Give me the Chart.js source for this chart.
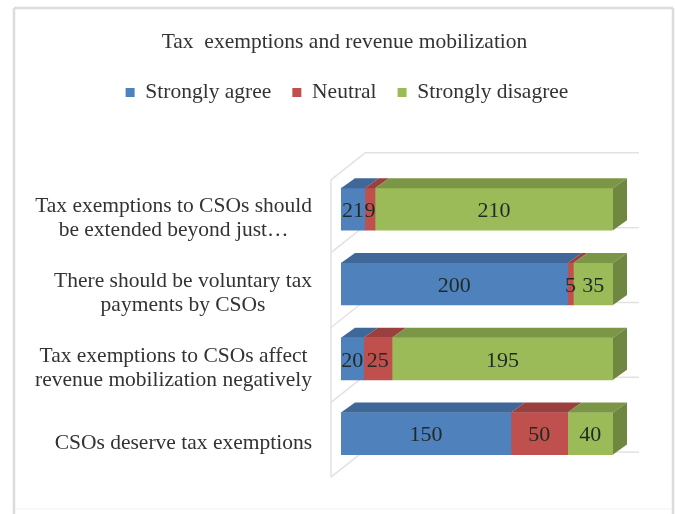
<!DOCTYPE html>
<html lang="en">
<head>
    <meta charset="UTF-8">
    <title>Tax exemptions and revenue mobilization</title>
    <script src="https://cdn.jsdelivr.net/npm/chart.js"></script>
    <style>
        html, body {
            margin: 0;
            background: #fff;
        }
        #wrap {
            position: relative;
            width: 675px;
            height: 514px;
        }
    </style>
</head>
<body>
    <div id="wrap"><canvas id="surveyChart" width="675" height="514"></canvas></div>

    <script>
        const categories = [
            ['Tax exemptions to CSOs should', 'be extended beyond just…'],
            ['There should be voluntary tax', 'payments by CSOs'],
            ['Tax exemptions to CSOs affect', 'revenue mobilization negatively'],
            ['CSOs deserve tax exemptions']
        ];
        const stronglyAgree = [21, 200, 20, 150];
        const neutral = [9, 5, 25, 50];
        const stronglyDisagree = [210, 35, 195, 40];

        const serif = '"Liberation Serif", serif';
        const textColor = '#333';
        const depthX = 14;
        const depthY = 10;

        function line(ctx, x1, y1, x2, y2) {
            ctx.beginPath();
            ctx.moveTo(x1, y1);
            ctx.lineTo(x2, y2);
            ctx.stroke();
        }

        function face(ctx, pts, color) {
            ctx.beginPath();
            pts.forEach((p, i) => i ? ctx.lineTo(p[0], p[1]) : ctx.moveTo(p[0], p[1]));
            ctx.closePath();
            ctx.fillStyle = color;
            ctx.fill();
        }

        // leaves the empty band between the legend and the plot, nudges the legend right
        const legendGapPlugin = {
            id: 'legendGap',
            beforeInit(chart) {
                const fit = chart.legend.fit;
                chart.legend.fit = function () {
                    fit.call(this);
                    this.height += 58.5;
                };
            },
            afterLayout(chart) {
                chart.legend.left += 2.5;
                chart.legend.right += 2.5;
            }
        };

        // outer frame plus the side wall and gridlines behind the bars
        const wallsPlugin = {
            id: 'walls',
            beforeDatasetsDraw(chart) {
                const { ctx, chartArea: a, scales: { y } } = chart;
                ctx.save();
                ctx.strokeStyle = '#dcdcdc';
                ctx.lineWidth = 2.5;
                line(ctx, 14, 514, 14, 8);
                line(ctx, 14, 8, 673, 8);
                line(ctx, 673, 8, 673, 514);

                ctx.strokeStyle = '#f3f3f3';
                ctx.lineWidth = 1;
                line(ctx, 15, 509, 672, 509);

                ctx.strokeStyle = '#e2e2e2';
                ctx.lineWidth = 1.5;
                const wallX = a.left - 10;
                const backX = wallX + 34;
                line(ctx, wallX, a.top + 8, wallX, a.bottom + 6);
                line(ctx, wallX, a.top + 8, backX, a.top - 19);
                line(ctx, backX, a.top - 19, 639, a.top - 19);
                categories.forEach((c, i) => {
                    const yb = y.getPixelForValue(i) + 37.5;
                    line(ctx, wallX, yb + 6, backX, yb - 21);
                    line(ctx, a.right, yb - 19, 639, yb - 19);
                });
                ctx.restore();
            }
        };

        // depth faces of each stacked segment, drawn from the bar elements
        const depthPlugin = {
            id: 'depth',
            afterDatasetsDraw(chart) {
                const { ctx } = chart;
                const topColors = ['#3f6797', '#9a403e', '#7c9647'];
                const sideColor = '#6f8741';
                ctx.save();
                chart.data.datasets.forEach((ds, d) => {
                    chart.getDatasetMeta(d).data.forEach(bar => {
                        const top = bar.y - bar.height / 2;
                        const bottom = bar.y + bar.height / 2;
                        face(ctx, [[bar.base, top], [bar.x, top], [bar.x + depthX, top - depthY], [bar.base + depthX, top - depthY]], topColors[d]);
                        if (d === chart.data.datasets.length - 1) {
                            face(ctx, [[bar.x, top], [bar.x + depthX, top - depthY], [bar.x + depthX, bottom - depthY], [bar.x, bottom]], sideColor);
                        }
                    });
                });
                ctx.restore();
            }
        };

        // value labels centred on the segments
        const valuesPlugin = {
            id: 'values',
            afterDraw(chart) {
                const { ctx } = chart;
                ctx.save();
                ctx.font = '22px ' + serif;
                ctx.textAlign = 'center';
                ctx.textBaseline = 'middle';
                ctx.fillStyle = '#1f2a24';
                chart.data.datasets.forEach((ds, d) => {
                    chart.getDatasetMeta(d).data.forEach((bar, i) => {
                        ctx.fillText(String(ds.data[i]), (bar.base + bar.x) / 2, bar.y + 2);
                    });
                });
                ctx.restore();
            }
        };

        // category labels: block sits against the axis, lines centred inside the block
        const categoryPlugin = {
            id: 'categoryLabels',
            afterDraw(chart) {
                const { ctx, scales: { y } } = chart;
                const rightEdge = 312;
                const lineHeight = 24;
                ctx.save();
                ctx.font = '21.5px ' + serif;
                ctx.textAlign = 'center';
                ctx.textBaseline = 'middle';
                ctx.fillStyle = textColor;
                categories.forEach((lines, i) => {
                    const widest = Math.max(...lines.map(t => ctx.measureText(t).width));
                    const cx = rightEdge - widest / 2;
                    const cy = y.getPixelForValue(i) + 9.5 - (lines.length - 1) * lineHeight / 2;
                    lines.forEach((t, n) => ctx.fillText(t, cx, cy + n * lineHeight));
                });
                ctx.restore();
            }
        };

        new Chart(document.getElementById('surveyChart'), {
            type: 'bar',
            data: {
                labels: categories,
                datasets: [
                    { label: 'Strongly agree', data: stronglyAgree, backgroundColor: '#4f81bd' },
                    { label: 'Neutral', data: neutral, backgroundColor: '#c0504d' },
                    { label: 'Strongly disagree', data: stronglyDisagree, backgroundColor: '#9bbb59' }
                ]
            },
            options: {
                indexAxis: 'y',
                responsive: false,
                animation: false,
                barThickness: 42,
                layout: { padding: { top: 0, right: 0, bottom: 43, left: 14 } },
                scales: {
                    x: { stacked: true, min: 0, max: 240, display: false },
                    y: {
                        stacked: true,
                        grid: { display: false },
                        border: { display: false },
                        ticks: { display: false },
                        afterFit(scale) { scale.width = 327; }
                    },
                    // empty axis that keeps the bars clear of the right side
                    gutter: {
                        type: 'category',
                        position: 'right',
                        grid: { display: false },
                        border: { display: false },
                        ticks: { display: false },
                        afterFit(scale) { scale.width = 62; }
                    }
                },
                plugins: {
                    title: {
                        display: true,
                        text: 'Tax  exemptions and revenue mobilization',
                        color: textColor,
                        font: { family: serif, size: 21.5, weight: 'normal' },
                        padding: { top: 29, bottom: 6 }
                    },
                    legend: {
                        position: 'top',
                        align: 'center',
                        labels: {
                            color: textColor,
                            font: { family: serif, size: 21.5 },
                            boxWidth: 9,
                            boxHeight: 9,
                            padding: 21
                        }
                    },
                    tooltip: { enabled: false }
                }
            },
            plugins: [legendGapPlugin, wallsPlugin, depthPlugin, valuesPlugin, categoryPlugin]
        });
    </script>
</body>
</html>
